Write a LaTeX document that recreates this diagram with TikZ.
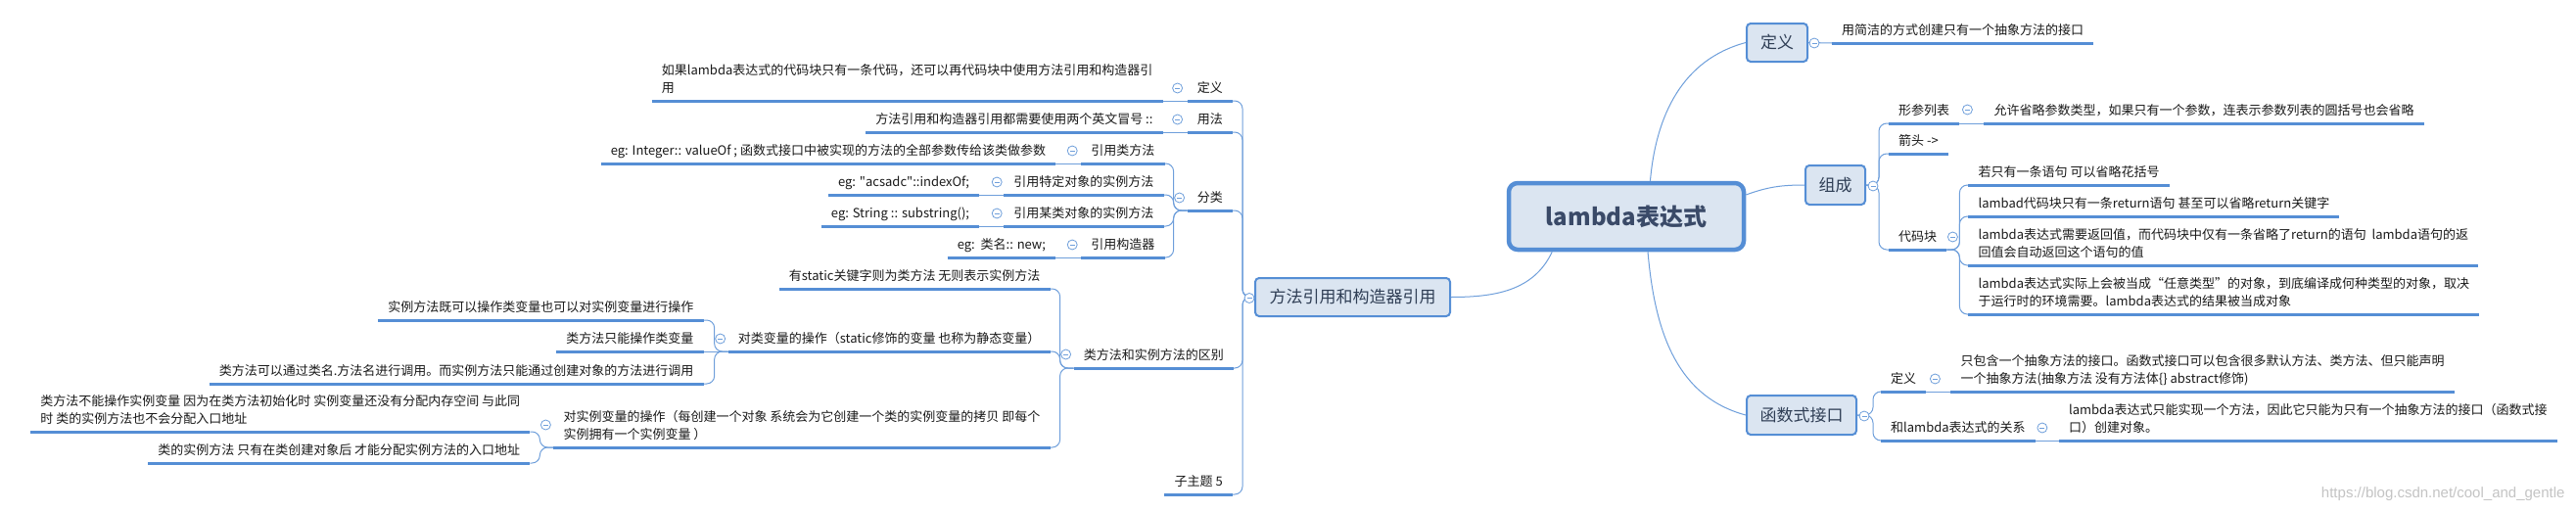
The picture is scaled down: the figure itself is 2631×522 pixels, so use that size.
\documentclass[tikz,border=0pt]{standalone}
\usepackage{fontspec}
\setmainfont{Noto Sans CJK SC}
\newfontfamily\cn{Noto Sans CJK SC}
\newfontfamily\wmfont{Liberation Sans}
\usetikzlibrary{calc}
\definecolor{ublue}{HTML}{558ED5}
\definecolor{cblue}{HTML}{6F9FDB}
\definecolor{boxfill}{HTML}{DBE5F1}
\definecolor{boxtext}{HTML}{2F3E55}
\definecolor{roottext}{HTML}{3A4A68}
\definecolor{txt}{HTML}{1A1A1A}
\definecolor{wmgray}{HTML}{C4C4C4}
\newcommand\dstrut{\vrule height 9pt depth 4pt width 0pt}
\begin{document}
\begin{tikzpicture}[x=1pt,y=-1pt,
  topic/.style={inner xsep=10pt, inner ysep=4pt, text=txt, font=\cn\fontsize{13}{18}\selectfont, align=left, execute at end node=\dstrut},
  lt/.style={topic, anchor=south east},
  rt/.style={topic, anchor=south west},
  subbox/.style={draw=ublue, line width=2pt, fill=boxfill, rounded corners=4pt, text=boxtext, font=\cn\fontsize{17}{20}\selectfont, minimum height=39pt, inner xsep=6pt},
  rootbox/.style={draw=ublue, line width=4.5pt, fill=boxfill, rounded corners=9pt, text=roottext, font=\cn\fontsize{24}{28}\selectfont\bfseries, minimum width=240pt, minimum height=68pt},
  uline/.style={draw=ublue, line width=3pt},
  conn/.style={draw=cblue, line width=1pt},
  bracket/.style={conn, rounded corners=8pt},
  fold/.style={circle, draw=cblue, fill=white, line width=0.8pt, minimum size=10pt, inner sep=0pt,
    path picture={\draw[cblue, line width=0.8pt] ([xshift=-2.5pt]path picture bounding box.center) -- ([xshift=2.5pt]path picture bounding box.center);}},
]
\fill[white] (0,0) rectangle (2631,522);
\useasboundingbox (0,0) rectangle (2631,522);

% ---------- boxes ----------
\node[rootbox] (root) at (1661,221) {lambda表达式};
\node[subbox, minimum width=199pt] (mref) at (1381.5,303.5) {方法引用和构造器引用};
\node[subbox, minimum width=62pt] (def2) at (1815,43.5) {定义};
\node[subbox, minimum width=61pt, minimum height=40pt] (zc) at (1874.5,189) {组成};
\node[subbox, minimum width=112pt, minimum height=40pt] (fi) at (1840,424) {函数式接口};

% ---------- left side ----------
\coordinate (mtr) at ($(mref.west)+(-12,0)$);
\node[lt] (defL) at (1259,103) {定义};
\node[lt] (defT) at ($(defL.south west)+(-25,0)$) {如果lambda表达式的代码块只有一条代码，还可以再代码块中使用方法引用和构造器引\\用};
\node[lt] (useL) at (1259,135) {用法};
\node[lt] (useT) at ($(useL.south west)+(-25,0)$) {方法引用和构造器引用都需要使用两个英文冒号 ::};
\node[lt] (catL) at (1259,215) {分类};
\coordinate (ctr) at ($(catL.south west)+(-14,0)$);
\node[lt] (c1L) at ($(ctr)+(-9,-48)$) {引用类方法};
\node[lt] (c1T) at ($(c1L.south west)+(-26,0)$) {eg: Integer:: valueOf ; 函数式接口中被实现的方法的全部参数传给该类做参数};
\node[lt] (c2L) at ($(ctr)+(-10,-16)$) {引用特定对象的实例方法};
\node[lt] (c2T) at ($(c2L.south west)+(-25,0)$) {eg: "acsadc"::indexOf;};
\node[lt] (c3L) at ($(ctr)+(-10,16)$) {引用某类对象的实例方法};
\node[lt] (c3T) at ($(c3L.south west)+(-25,0)$) {eg: String :: substring();};
\node[lt] (c4L) at ($(ctr)+(-9,48)$) {引用构造器};
\node[lt] (c4T) at ($(c4L.south west)+(-26,0)$) {eg:\ \ 类名:: new;};

\node[lt] (diffL) at (1260,376) {类方法和实例方法的区别};
\coordinate (dtr) at ($(diffL.south west)+(-14,0)$);
\node[lt] (d1) at ($(dtr)+(-10,-81)$) {有static关键字则为类方法 无则表示实例方法};
\node[lt] (d2L) at ($(dtr)+(-10,-17)$) {对类变量的操作（static修饰的变量 也称为静态变量）};
\coordinate (d2tr) at ($(d2L.south west)+(-14,0)$);
\node[lt] (d21) at ($(d2tr)+(-11,-32)$) {实例方法既可以操作类变量也可以对实例变量进行操作};
\node[lt] (d22) at ($(d2tr)+(-11,0)$) {类方法只能操作类变量};
\node[lt] (d23) at ($(d2tr)+(-11,33)$) {类方法可以通过类名.方法名进行调用。而实例方法只能通过创建对象的方法进行调用};
\node[lt] (d3L) at ($(dtr)+(-10,81)$) {对实例变量的操作（每创建一个对象 系统会为它创建一个类的实例变量的拷贝 即每个\\实例拥有一个实例变量 ）};
\coordinate (d3tr) at ($(d3L.south west)+(-14,0)$);
\node[lt] (d31) at ($(d3tr)+(-10,-16)$) {类方法不能操作实例变量 因为在类方法初始化时 实例变量还没有分配内存空间 与此同\\时 类的实例方法也不会分配入口地址};
\node[lt] (d32) at ($(d3tr)+(-10,16)$) {类的实例方法 只有在类创建对象后 才能分配实例方法的入口地址};
\node[lt] (sub5) at (1259,505) {子主题 5};

% ---------- right side ----------
\node[rt] (def2T) at ($(def2.east)+(24,0.5)$) {用简洁的方式创建只有一个抽象方法的接口};
\coordinate (ztr) at ($(zc.east)+(13,0)$);
\node[rt] (xcL) at ($(ztr)+(10,-63)$) {形参列表};
\node[rt] (xcT) at ($(xcL.south east)+(25,0)$) {允许省略参数类型，如果只有一个参数，连表示参数列表的圆括号也会省略};
\node[rt] (jt) at ($(ztr)+(10,-32)$) {箭头 ->};
\node[rt] (dmk) at ($(ztr)+(10,66)$) {代码块};
\coordinate (dmtr) at ($(dmk.south east)+(13,0)$);
\node[rt] (k1) at ($(dmtr)+(9,-66)$) {若只有一条语句 可以省略花括号};
\node[rt] (k2) at ($(dmtr)+(9,-34)$) {lambad代码块只有一条return语句 甚至可以省略return关键字};
\node[rt] (k3) at ($(dmtr)+(9,16)$) {lambda表达式需要返回值，而代码块中仅有一条省略了return的语句\ \ lambda语句的返\\回值会自动返回这个语句的值};
\node[rt] (k4) at ($(dmtr)+(9,66)$) {lambda表达式实际上会被当成“任意类型”的对象，到底编译成何种类型的对象，取决\\于运行时的环境需要。lambda表达式的结果被当成对象};
\coordinate (ftr) at ($(fi.east)+(16,0)$);
\node[rt] (fdL) at ($(ftr)+(8,-24)$) {定义};
\node[rt] (fdT) at ($(fdL.south east)+(25,0)$) {只包含一个抽象方法的接口。函数式接口可以包含很多默认方法、类方法、但只能声明\\一个抽象方法(抽象方法 没有方法体\{\} abstract修饰)};
\node[rt] (frL) at ($(ftr)+(8,26)$) {和lambda表达式的关系};
\node[rt] (frT) at ($(frL.south east)+(24,0)$) {lambda表达式只能实现一个方法，因此它只能为只有一个抽象方法的接口（函数式接\\口）创建对象。};

\node[font=\wmfont\fontsize{15}{18}\selectfont, text=wmgray, anchor=east] (wm) at (2623,505) {https://blog.csdn.net/cool\_and\_gentle};

% ---------- connectors ----------
\draw[conn] ($(root.north west)!0.6!(root.north east)$) to[out=85,in=195] (def2.west);
\draw[conn] ($(root.east)+(0,-22)$) to[out=20,in=180] (zc.west);
\draw[conn] ($(root.south west)!0.59!(root.south east)$) to[out=-85,in=165] (fi.west);
\draw[conn] ($(root.south west)!0.19!(root.south east)$) to[out=-115,in=0] (mref.east);

\foreach \c in {defL,useL,catL,diffL,sub5} \draw[bracket] (mref.west) -- (mtr) |- (\c.south east);
\foreach \c in {c1L,c2L,c3L,c4L} \draw[bracket] (catL.south west) -- (ctr) |- (\c.south east);
\foreach \c in {d1,d2L,d3L} \draw[bracket] (diffL.south west) -- (dtr) |- (\c.south east);
\foreach \c in {d21,d23} \draw[bracket] (d2L.south west) -- (d2tr) |- (\c.south east);
\draw[conn] (d2L.south west) -- (d22.south east);
\foreach \c in {d31,d32} \draw[bracket] (d3L.south west) -- (d3tr) |- (\c.south east);
\foreach \c in {xcL,jt,dmk} \draw[bracket] (zc.east) -- (ztr) |- (\c.south west);
\foreach \c in {k1,k2,k3,k4} \draw[bracket] (dmk.south east) -- (dmtr) |- (\c.south west);
\foreach \c in {fdL,frL} \draw[bracket] (fi.east) -- (ftr) |- (\c.south west);

\foreach \a/\b in {defL/defT,useL/useT,c1L/c1T,c2L/c2T,c3L/c3T,c4L/c4T} \draw[conn] (\a.south west) -- (\b.south east);
\foreach \a/\b in {xcL/xcT,fdL/fdT,frL/frT} \draw[conn] (\a.south east) -- (\b.south west);
\draw[conn] (def2.east) -- (def2T.south west);

% ---------- underlines ----------
\foreach \n in {defL,defT,useL,useT,catL,c1L,c1T,c2L,c2T,c3L,c3T,c4L,c4T,diffL,d1,d2L,d21,d22,d23,d3L,d31,d32,sub5,def2T,xcL,xcT,jt,dmk,k1,k2,k3,k4,fdL,fdT,frL,frT}
  \draw[uline] (\n.south west) -- (\n.south east);

% ---------- fold markers ----------
\node[fold] (fo1) at ($(defL.south west)+(-10,-13)$) {};
\node[fold] (fo2) at ($(useL.south west)+(-10,-13)$) {};
\node[fold] (fo3) at ($(catL.south west)+(-8,-13)$) {};
\node[fold] (fo4) at ($(c1L.south west)+(-9,-13)$) {};
\node[fold] (fo5) at ($(c2L.south west)+(-7,-13)$) {};
\node[fold] (fo6) at ($(c3L.south west)+(-7,-13)$) {};
\node[fold] (fo7) at ($(c4L.south west)+(-9,-13)$) {};
\node[fold] (fo8) at ($(diffL.south west)+(-8,-14)$) {};
\node[fold] (fo9) at ($(d2L.south west)+(-8,-13)$) {};
\node[fold] (fo10) at ($(d3L.south west)+(-8,-23)$) {};
\node[fold] (fo11) at ($(mref.west)+(-5,1)$) {};
\node[fold] (fo12) at ($(def2.east)+(6,0.5)$) {};
\node[fold] (fo13) at ($(zc.east)+(7,1)$) {};
\node[fold] (fo14) at ($(xcL.south east)+(8,-14)$) {};
\node[fold] (fo15) at ($(dmk.south east)+(6,-13)$) {};
\node[fold] (fo16) at ($(fi.east)+(7,1)$) {};
\node[fold] (fo17) at ($(fdL.south east)+(9,-13)$) {};
\node[fold] (fo18) at ($(frL.south east)+(7,-13)$) {};
\end{tikzpicture}
\end{document}
